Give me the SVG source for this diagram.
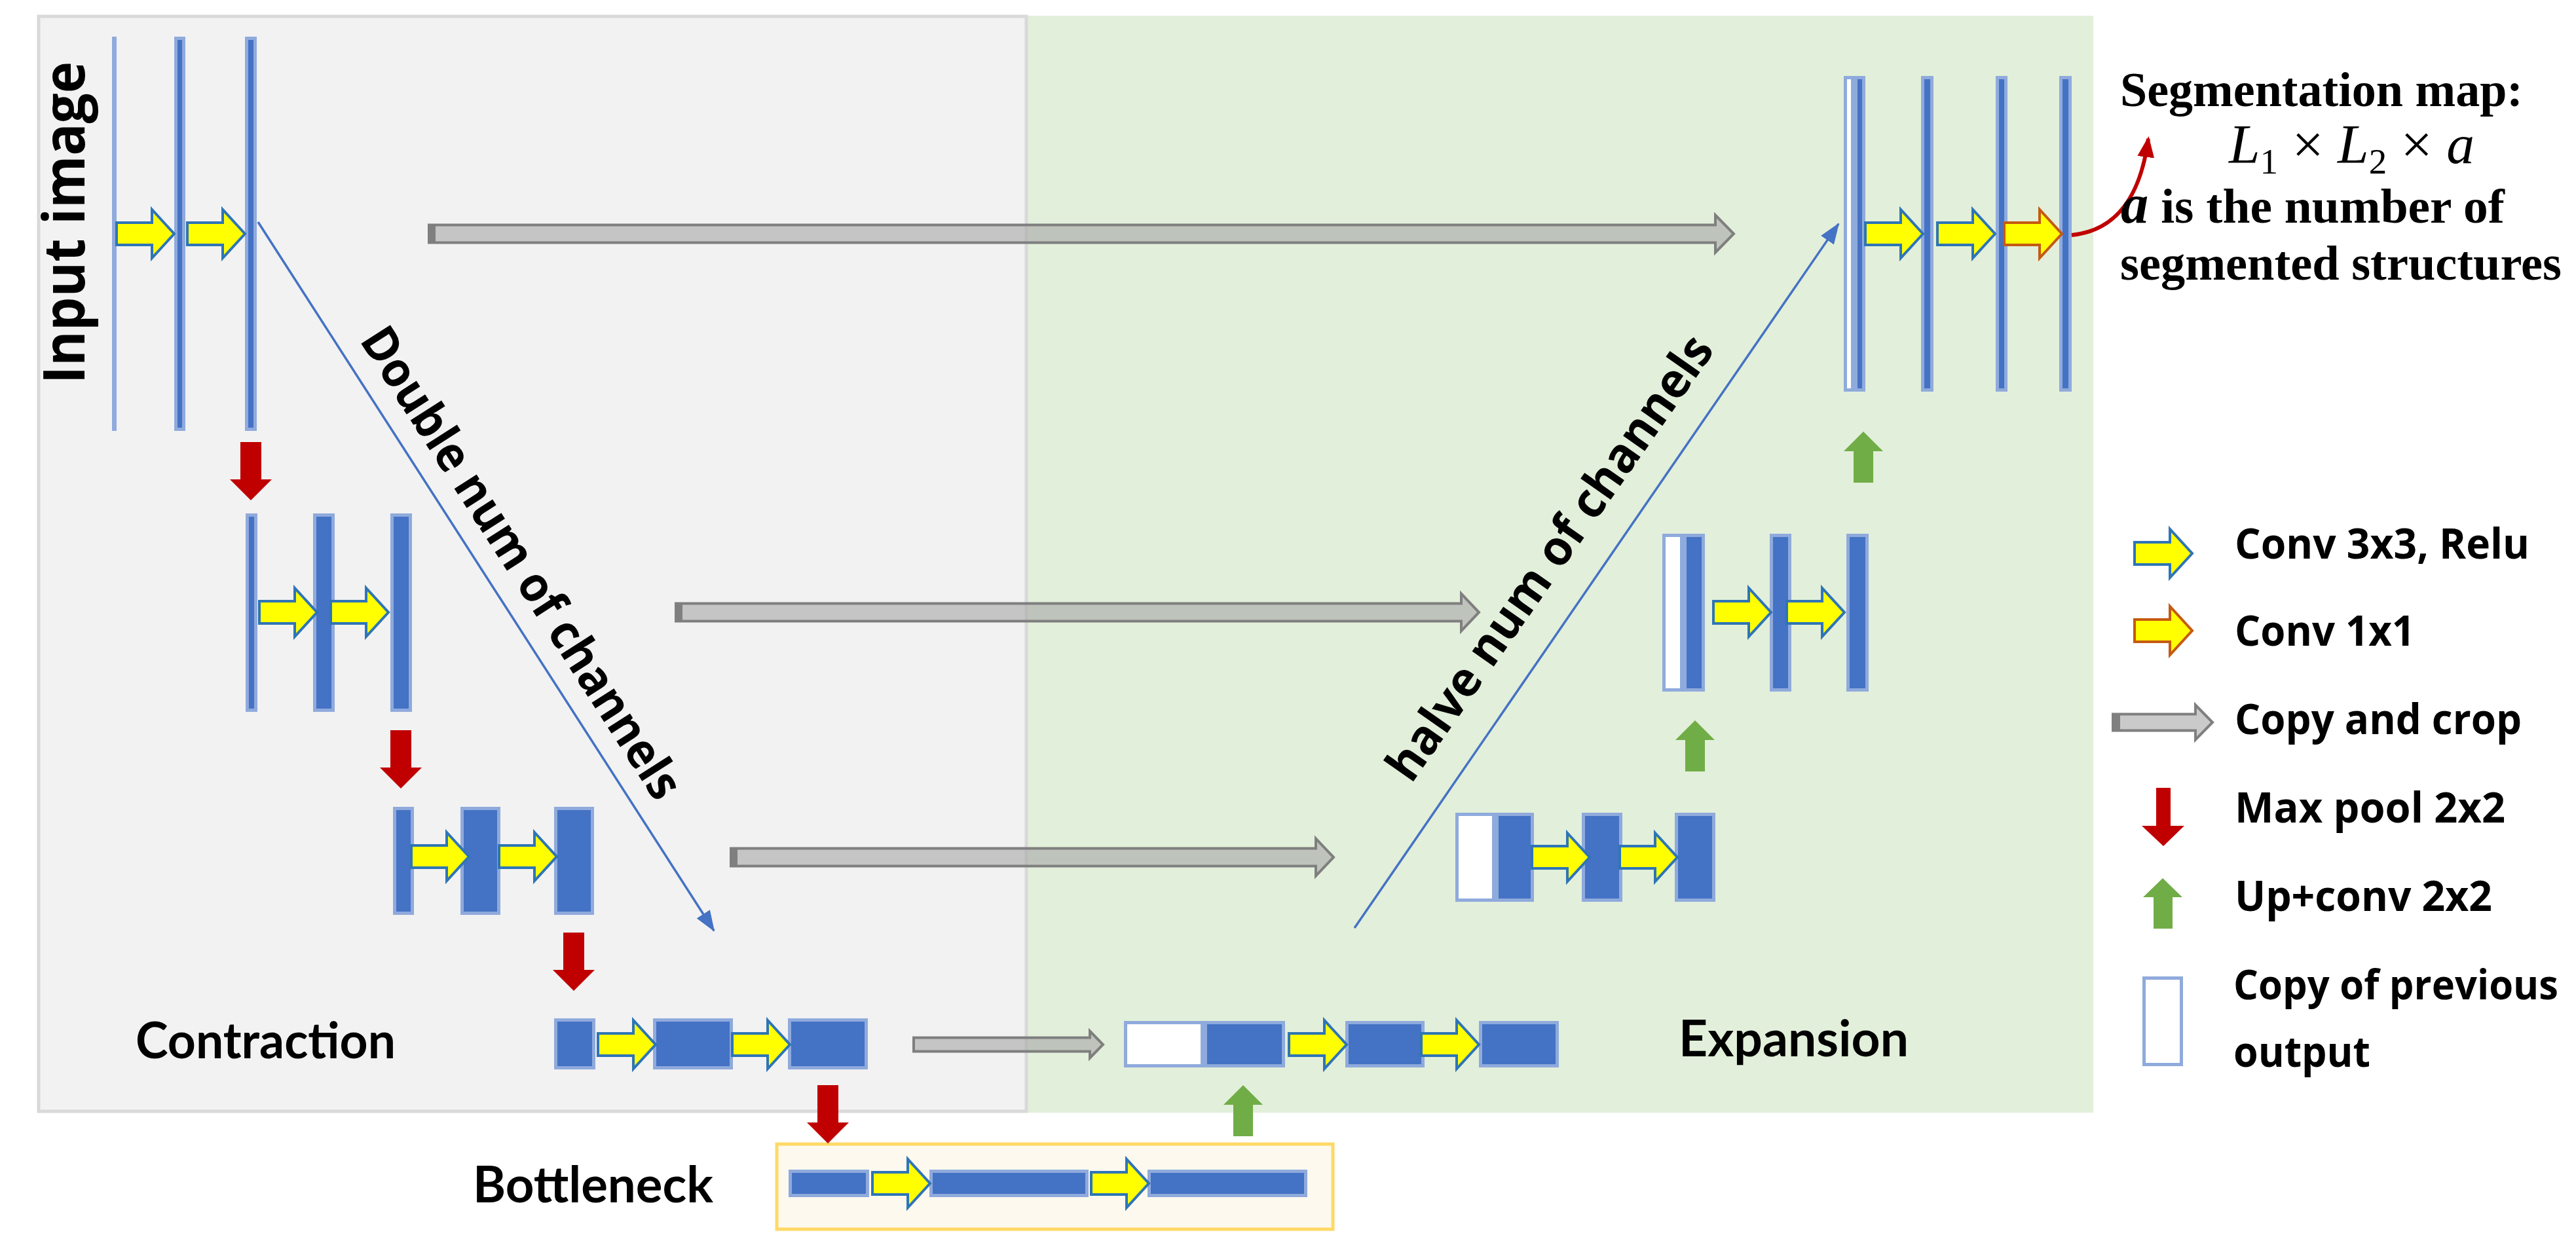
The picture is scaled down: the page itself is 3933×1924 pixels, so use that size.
<svg xmlns="http://www.w3.org/2000/svg" xmlns:xlink="http://www.w3.org/1999/xlink" width="3933" height="1924" viewBox="0 0 3933 1924">
<style>
.b{fill:#4472c4;stroke:#8faadc;stroke-width:5}
.w{fill:#ffffff;stroke:#8faadc;stroke-width:5}
.cv{fill:#ffff00;stroke:#2e75b6;stroke-width:4;stroke-linejoin:miter}
.cv1{fill:#ffff00;stroke:#c55a11;stroke-width:4}
.mp{fill:#c00000}
.up{fill:#70ad47}
.cp{fill:#a6a6a6;fill-opacity:0.6;stroke:#7f7f7f;stroke-width:4}
.cap{fill:#7f7f7f}
.ln{stroke:#4472c4;stroke-width:3.5;fill:none}
.lbl{font-family:"Open Sans","DejaVu Sans",sans-serif;font-weight:bold;fill:#000}
.cal{font-family:Lato,"Open Sans",sans-serif;font-weight:bold;fill:#000}
.tms{font-family:"Liberation Serif","Times New Roman",serif;fill:#000}
</style>
<defs>
<path id="cva" d="M0,-17 H54 V-37 L88,0 L54,37 V17 H0 Z"/>
<path id="mpa" d="M-16,0 H16 V57 H32 L0,89 L-32,57 H-16 Z"/>
<path id="upa" d="M0,0 L30,30 H15 V78 H-15 V30 H-30 Z"/>
<marker id="ah" markerUnits="userSpaceOnUse" markerWidth="34" markerHeight="26" refX="30" refY="12" orient="auto">
<path d="M0,0 L32,12 L0,24 Z" fill="#4472c4"/>
</marker>
<marker id="ahr" markerUnits="userSpaceOnUse" markerWidth="34" markerHeight="28" refX="28" refY="13" orient="auto">
<path d="M0,0 L32,13 L0,26 Z" fill="#c00000"/>
</marker>
</defs>

<g id="panels">
<rect id="expansion-panel" x="1567" y="24" width="1629" height="1675" fill="#e2efda"/>
<rect id="contraction-panel" x="59" y="25" width="1508" height="1672" fill="#f2f2f2" stroke="#d9d9d9" stroke-width="5"/>
<rect id="bottleneck-panel" x="1186" y="1747" width="849" height="130" fill="#fdf9ee" stroke="#ffd966" stroke-width="5"/>
</g>

<g id="level1-contraction">
<rect x="171" y="56" width="7" height="602" fill="#8faadc"/>
<rect class="b" x="268.5" y="58.5" width="12" height="597"/>
<rect class="b" x="376.5" y="58.5" width="13" height="597"/>
<use href="#cva" class="cv" x="178" y="357"/>
<use href="#cva" class="cv" x="286" y="357"/>
</g>

<g id="level2-contraction">
<rect class="b" x="377.5" y="786.5" width="13" height="298"/>
<rect class="b" x="480.5" y="786.5" width="28" height="298"/>
<rect class="b" x="598.5" y="786.5" width="28" height="298"/>
<use href="#cva" class="cv" x="396" y="935"/>
<use href="#cva" class="cv" x="505" y="935"/>
</g>

<g id="level3-contraction">
<rect class="b" x="602.5" y="1234.5" width="27" height="160"/>
<rect class="b" x="705.5" y="1234.5" width="56" height="160"/>
<rect class="b" x="848.5" y="1234.5" width="56" height="160"/>
<use href="#cva" class="cv" x="628" y="1308"/>
<use href="#cva" class="cv" x="762" y="1308"/>
</g>

<g id="level4-contraction">
<rect class="b" x="848.5" y="1557.5" width="58" height="73"/>
<rect class="b" x="999.5" y="1557.5" width="117" height="73"/>
<rect class="b" x="1205.5" y="1557.5" width="117" height="73"/>
<use href="#cva" class="cv" x="913" y="1595"/>
<use href="#cva" class="cv" x="1118" y="1595"/>
</g>

<g id="bottleneck">
<rect class="b" x="1206.5" y="1788.5" width="118" height="37"/>
<rect class="b" x="1421.5" y="1788.5" width="238" height="37"/>
<rect class="b" x="1754.5" y="1788.5" width="239" height="37"/>
<use href="#cva" class="cv" x="1332" y="1807"/>
<use href="#cva" class="cv" x="1666" y="1807"/>
</g>

<g id="level4-expansion">
<rect class="w" x="1718.5" y="1561.5" width="117" height="66"/>
<rect class="b" x="1840.5" y="1561.5" width="119" height="66"/>
<rect class="b" x="2056.5" y="1561.5" width="116" height="66"/>
<rect class="b" x="2260.5" y="1561.5" width="117" height="66"/>
<use href="#cva" class="cv" x="1968" y="1595"/>
<use href="#cva" class="cv" x="2170" y="1595"/>
</g>

<g id="level3-expansion">
<rect class="w" x="2224.5" y="1243.5" width="56" height="131"/>
<rect class="b" x="2285.5" y="1243.5" width="54" height="131"/>
<rect class="b" x="2417.5" y="1243.5" width="57" height="131"/>
<rect class="b" x="2559.5" y="1243.5" width="57" height="131"/>
<use href="#cva" class="cv" x="2339" y="1309"/>
<use href="#cva" class="cv" x="2473" y="1309"/>
</g>

<g id="level2-expansion">
<rect class="w" x="2540.5" y="817.5" width="27" height="236"/>
<rect class="b" x="2572.5" y="817.5" width="28" height="236"/>
<rect class="b" x="2704.5" y="817.5" width="28" height="236"/>
<rect class="b" x="2821.5" y="817.5" width="29" height="236"/>
<use href="#cva" class="cv" x="2616" y="935"/>
<use href="#cva" class="cv" x="2728" y="935"/>
</g>

<g id="level1-expansion">
<rect class="w" x="2817.5" y="118.5" width="11" height="477"/>
<rect class="b" x="2833.5" y="118.5" width="12" height="477"/>
<rect class="b" x="2935.5" y="118.5" width="14" height="477"/>
<rect class="b" x="3049.5" y="118.5" width="13" height="477"/>
<rect class="b" x="3146.5" y="118.5" width="14" height="477"/>
<use href="#cva" class="cv" x="2848" y="357"/>
<use href="#cva" class="cv" x="2958" y="357"/>
<use href="#cva" class="cv1" x="3060" y="357"/>
</g>

<g id="connectors">
<use href="#mpa" class="mp" x="383" y="675"/>
<use href="#mpa" class="mp" x="612" y="1115"/>
<use href="#mpa" class="mp" x="876" y="1424"/>
<use href="#mpa" class="mp" x="1264" y="1657"/>
<use href="#upa" class="up" x="1898" y="1657"/>
<use href="#upa" class="up" x="2588" y="1100"/>
<use href="#upa" class="up" x="2845" y="659"/>
<path class="cp" d="M655,343.5 H2619 V328.5 L2647,357 L2619,385.5 V370.5 H655 Z"/>
<rect class="cap" x="655" y="343.5" width="10" height="27"/>
<path class="cp" d="M1032,921.5 H2231 V906.5 L2258,935 L2231,963.5 V948.5 H1032 Z"/>
<rect class="cap" x="1032" y="921.5" width="10" height="27"/>
<path class="cp" d="M1116,1295.5 H2009 V1280.5 L2036,1309 L2009,1337.5 V1322.5 H1116 Z"/>
<rect class="cap" x="1116" y="1295.5" width="10" height="27"/>
<path class="cp" d="M1395,1584.5 H1664 V1574.5 L1684,1595 L1664,1615.5 V1605.5 H1395 Z"/>
<line class="ln" x1="394" y1="339" x2="1090" y2="1421" marker-end="url(#ah)"/>
<line class="ln" x1="2068" y1="1417" x2="2807" y2="342" marker-end="url(#ah)"/>
<path d="M3163,359 C3232,352 3268,300 3280,212" fill="none" stroke="#c00000" stroke-width="6" marker-end="url(#ahr)"/>
</g>

<g id="labels">
<text class="lbl" transform="translate(129,340) rotate(-90)" text-anchor="middle" font-size="88" textLength="492" lengthAdjust="spacingAndGlyphs">Input image</text>
<text class="lbl" transform="translate(775,873) rotate(57.3)" text-anchor="middle" font-size="74" textLength="840" lengthAdjust="spacingAndGlyphs">Double num of channels</text>
<text class="lbl" transform="translate(2387,866) rotate(-55)" text-anchor="middle" font-size="74" textLength="810" lengthAdjust="spacingAndGlyphs">halve num of channels</text>
<text class="cal" x="207" y="1616" font-size="76" textLength="397" lengthAdjust="spacingAndGlyphs">Contraction</text>
<text class="cal" x="2563" y="1613" font-size="76" textLength="351" lengthAdjust="spacingAndGlyphs">Expansion</text>
<text class="cal" x="722" y="1836" font-size="76" textLength="367" lengthAdjust="spacingAndGlyphs">Bottleneck</text>
</g>

<g id="segmentation-output">
<text class="tms" x="3237" y="162" font-size="75" font-weight="bold" textLength="615" lengthAdjust="spacingAndGlyphs">Segmentation map:</text>
<text class="tms" x="3403" y="249" font-size="84" textLength="375" lengthAdjust="spacingAndGlyphs"><tspan font-style="italic">L</tspan><tspan font-size="54" dy="16">1</tspan><tspan dy="-16"> × </tspan><tspan font-style="italic">L</tspan><tspan font-size="54" dy="16">2</tspan><tspan dy="-16"> × </tspan><tspan font-style="italic">a</tspan></text>
<text class="tms" x="3238" y="340" font-size="75" font-weight="bold" textLength="586" lengthAdjust="spacingAndGlyphs"><tspan font-style="italic" font-size="84">a</tspan> is the number of</text>
<text class="tms" x="3237" y="427" font-size="75" font-weight="bold" textLength="674" lengthAdjust="spacingAndGlyphs">segmented structures</text>
</g>

<g id="legend">
<g id="legend-conv3">
<use href="#cva" class="cv" x="3259" y="845"/>
<text class="lbl" x="3412" y="853" font-size="65" textLength="450" lengthAdjust="spacingAndGlyphs">Conv 3x3, Relu</text>
</g>
<g id="legend-conv1">
<use href="#cva" class="cv1" x="3259" y="963"/>
<text class="lbl" x="3412" y="986" font-size="65" textLength="275" lengthAdjust="spacingAndGlyphs">Conv 1x1</text>
</g>
<g id="legend-copy">
<path class="cp" d="M3226,1090.5 H3352 V1076.5 L3378,1103 L3352,1129.5 V1115.5 H3226 Z"/>
<rect class="cap" x="3226" y="1090.5" width="11" height="25"/>
<text class="lbl" x="3412" y="1121" font-size="65" textLength="438" lengthAdjust="spacingAndGlyphs">Copy and crop</text>
</g>
<g id="legend-maxpool">
<path class="mp" d="M3292,1203 H3314 V1261 H3335 L3303,1292 L3270,1261 H3292 Z"/>
<text class="lbl" x="3412" y="1256" font-size="65" textLength="413" lengthAdjust="spacingAndGlyphs">Max pool 2x2</text>
</g>
<g id="legend-upconv">
<path class="up" d="M3302,1341 L3332,1370 H3317 V1418 H3288 V1370 H3272 Z"/>
<text class="lbl" x="3412" y="1391" font-size="65" textLength="393" lengthAdjust="spacingAndGlyphs">Up+conv 2x2</text>
</g>
<g id="legend-copyprev">
<rect class="w" x="3273.5" y="1493.5" width="57" height="132"/>
<text class="lbl" x="3410" y="1526" font-size="63" textLength="496" lengthAdjust="spacingAndGlyphs">Copy of previous</text>
<text class="lbl" x="3410" y="1629" font-size="65" textLength="209" lengthAdjust="spacingAndGlyphs">output</text>
</g>
</g>
</svg>
